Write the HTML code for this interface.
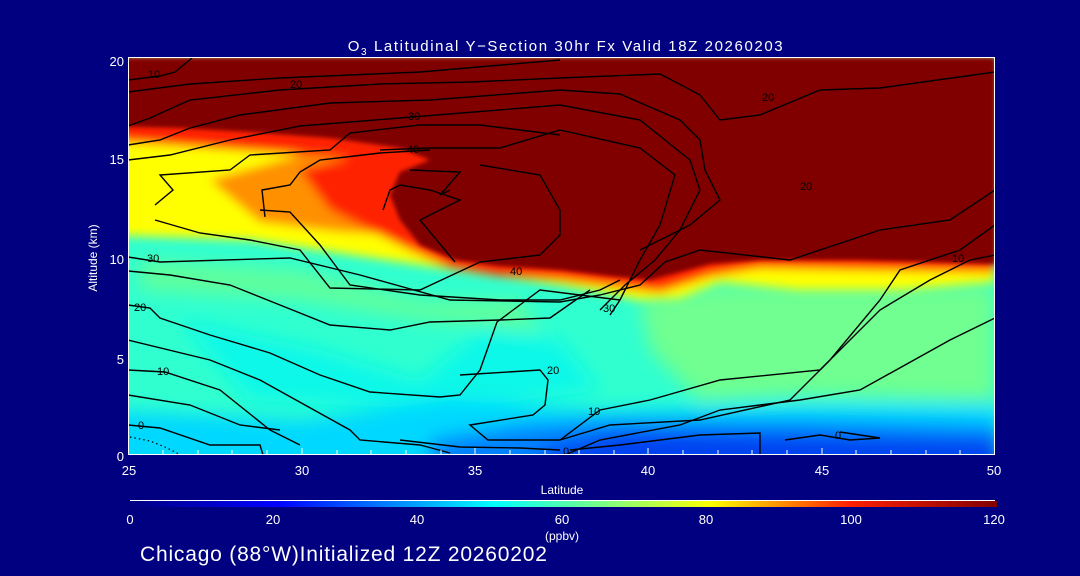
<!DOCTYPE html>
<html><head><style>
html,body{margin:0;padding:0;background:#000080;}
svg{display:block;}
text{font-family:"Liberation Sans",sans-serif;fill:#fff;}
</style></head><body>
<svg width="1080" height="576" viewBox="0 0 1080 576" xmlns="http://www.w3.org/2000/svg">
<defs>
<clipPath id="pc"><rect x="128" y="58" width="867" height="397"/></clipPath>
<filter id="b8" x="-20%" y="-20%" width="140%" height="140%"><feGaussianBlur stdDeviation="9"/></filter>
<filter id="b4" x="-20%" y="-20%" width="140%" height="140%"><feGaussianBlur stdDeviation="5"/></filter>
<filter id="b2" x="-20%" y="-20%" width="140%" height="140%"><feGaussianBlur stdDeviation="2"/></filter>
<linearGradient id="cb" x1="0" x2="1" y1="0" y2="0">
<stop offset="0" stop-color="#000080"/><stop offset="0.17" stop-color="#0000ff"/>
<stop offset="0.33" stop-color="#00a0ff"/><stop offset="0.42" stop-color="#00ffff"/>
<stop offset="0.55" stop-color="#80ff80"/><stop offset="0.67" stop-color="#ffff00"/>
<stop offset="0.83" stop-color="#ff2000"/><stop offset="1" stop-color="#800000"/>
</linearGradient>
</defs>
<rect width="1080" height="576" fill="#000080"/>
<g clip-path="url(#pc)">
<rect x="100" y="40" width="920" height="430" fill="#30ffd0"/>
<g filter="url(#b8)">
<polygon fill="#10f8e8" points="180,320 320,350 420,380 480,330 560,340 600,390 450,410 250,400"/>
<polygon fill="#70ff90" points="640,300 720,285 995,285 995,400 800,395 700,400 650,350"/>
<polygon fill="#60ff9c" points="140,260 300,270 420,300 520,300 540,330 420,320 300,300 140,290"/>
<polygon fill="#00d8ff" points="100,410 300,420 450,400 600,410 800,405 1000,405 1000,470 100,470"/>
<polygon fill="#0080ff" points="430,440 520,425 600,420 800,420 1000,425 1000,470 430,470"/>
<polygon fill="#0040f0" points="540,450 620,432 800,436 1000,440 1000,470 540,470"/>
</g>
<g filter="url(#b4)">
<polygon fill="#ffff00" points="100,140 300,148 440,150 600,200 700,255 995,260 995,282 900,290 800,290 720,282 680,298 640,300 560,285 400,262 250,240 100,235"/>
<polygon fill="#ff9000" points="210,180 300,155 430,150 450,230 400,235 340,232 260,222"/>
<polygon fill="#ff2000" points="100,58 995,58 995,272 860,270 760,268 710,276 660,292 600,285 560,280 500,276 450,268 410,250 330,210 300,170 350,158 100,140"/>
</g>
<g filter="url(#b2)">
<polygon fill="#800000" points="100,58 995,58 995,264 860,260 760,260 710,264 680,272 650,280 610,276 560,270 500,266 455,260 420,245 400,220 390,195 400,172 430,160 400,148 330,138 250,132 180,128 100,126"/>
</g>
</g>
<g fill="none" stroke="#000" stroke-width="1.4" clip-path="url(#pc)">
<polyline points="128,80 160,76 175,72 192,58"/>
<polyline points="128,92 190,84 280,78 420,72 560,60"/>
<polyline points="128,126 150,118 190,100 280,90 380,84 470,82 560,78 660,74 700,95 720,120 760,115 820,90 880,88 995,72"/>
<polyline points="128,145 160,140 190,128 240,115 330,103 430,100 560,90 620,94 680,120 700,140 705,170 720,200 690,225 640,250"/>
<polyline points="128,160 170,155 230,140 300,126 400,118 560,105 640,120 690,160 700,190 680,230 655,260 625,285 600,310"/>
<polyline points="380,150 430,148 500,148 560,130 640,148 675,175 660,225 640,260 620,300 610,315"/>
<polyline points="155,205 173,190 160,175 230,170 250,155 330,150 350,133 420,125 480,125 560,135"/>
<polyline points="265,217 262,190 290,185 300,172 320,160 380,153 430,150"/>
<polyline points="410,170 460,172 440,195 450,190"/>
<polyline points="383,210 390,190 400,185 430,190 460,200 420,220 455,262"/>
<polyline points="155,220 200,233 250,240 300,250 330,288 420,290 480,262 540,255 560,235 560,210 540,175 480,165"/>
<polyline points="260,210 290,212 320,245 350,285 420,295 500,300 560,300 600,290 620,280"/>
<polyline points="128,257 160,262 290,258 360,275 450,300 560,302 600,295 640,285 665,262 700,250 790,260 880,230 950,220 995,190"/>
<polyline points="128,271 170,275 230,285 280,305 330,325 390,330 430,322 500,320 550,318 590,290"/>
<polyline points="128,305 150,308 160,318 210,335 270,353 320,375 370,392 440,397 460,395 480,370 497,322 540,290 620,300"/>
<polyline points="128,340 210,360 260,380 305,405 350,430 360,440 420,445 450,453"/>
<polyline points="128,370 165,372 220,390 270,430 300,445"/>
<polyline points="128,395 190,405 240,425 280,430"/>
<polyline points="128,425 160,428 210,445 260,445 263,455"/>
<polyline points="460,375 540,370 548,380 545,405 533,415 470,425 488,440 560,440 600,410 650,400 720,380 820,370 880,310 930,280 970,260 995,255"/>
<polyline points="560,440 610,425 700,420 790,400 830,360 880,300 900,270 960,250 995,225"/>
<polyline points="565,455 600,440 680,425 720,410 800,400 860,390 950,340 995,318"/>
<polyline points="570,450 620,445 700,435 760,433 760,455"/>
<polyline points="785,440 820,435 850,440 880,438 840,432"/>
<polyline points="400,440 460,447 520,448 560,450" />
</g>
<polyline points="130,437 150,441 165,447 175,452 180,455" fill="none" stroke="#000" stroke-width="1.2" stroke-dasharray="1.5,3"/>
<g font-size="11">
<text x="148" y="78" style="fill:#000">10</text>
<text x="290" y="88" style="fill:#000">20</text>
<text x="408" y="120" style="fill:#000">30</text>
<text x="407" y="153" style="fill:#000">40</text>
<text x="147" y="262" style="fill:#000">30</text>
<text x="510" y="275" style="fill:#000">40</text>
<text x="603" y="312" style="fill:#000">30</text>
<text x="134" y="311" style="fill:#000">20</text>
<text x="157" y="375" style="fill:#000">10</text>
<text x="138" y="429" style="fill:#000">0</text>
<text x="547" y="374" style="fill:#000">20</text>
<text x="588" y="415" style="fill:#000">10</text>
<text x="835" y="439" style="fill:#000">0</text>
<text x="762" y="101" style="fill:#000">20</text>
<text x="800" y="190" style="fill:#000">20</text>
<text x="952" y="262" style="fill:#000">10</text>
<text x="563" y="455" style="fill:#000">0</text>
</g>
<rect x="128.5" y="57.5" width="866" height="397" fill="none" stroke="#fff" stroke-width="1"/>
<g stroke="#fff" stroke-width="1">
<line x1="163" y1="455" x2="163" y2="450"/><line x1="198" y1="455" x2="198" y2="450"/><line x1="232" y1="455" x2="232" y2="450"/><line x1="267" y1="455" x2="267" y2="450"/><line x1="302" y1="455" x2="302" y2="448"/>
<line x1="337" y1="455" x2="337" y2="450"/><line x1="371" y1="455" x2="371" y2="450"/><line x1="406" y1="455" x2="406" y2="450"/><line x1="441" y1="455" x2="441" y2="450"/><line x1="475" y1="455" x2="475" y2="448"/>
<line x1="510" y1="455" x2="510" y2="450"/><line x1="545" y1="455" x2="545" y2="450"/><line x1="579" y1="455" x2="579" y2="450"/><line x1="614" y1="455" x2="614" y2="450"/><line x1="648" y1="455" x2="648" y2="448"/>
<line x1="683" y1="455" x2="683" y2="450"/><line x1="718" y1="455" x2="718" y2="450"/><line x1="752" y1="455" x2="752" y2="450"/><line x1="787" y1="455" x2="787" y2="450"/><line x1="822" y1="455" x2="822" y2="448"/>
<line x1="856" y1="455" x2="856" y2="450"/><line x1="891" y1="455" x2="891" y2="450"/><line x1="926" y1="455" x2="926" y2="450"/><line x1="960" y1="455" x2="960" y2="450"/>
</g>
<text x="566" y="51" font-size="15" text-anchor="middle" letter-spacing="1.6">O<tspan font-size="10" dy="4">3</tspan><tspan dy="-4"> Latitudinal Y−Section 30hr  Fx Valid 18Z 20260203</tspan></text>
<g font-size="13" text-anchor="end">
<text x="124" y="66">20</text><text x="124" y="164">15</text><text x="124" y="264">10</text><text x="124" y="364">5</text><text x="124" y="461">0</text>
</g>
<text transform="translate(97,258) rotate(-90)" font-size="12" text-anchor="middle">Altitude (km)</text>
<g font-size="13" text-anchor="middle">
<text x="129" y="475">25</text><text x="302" y="475">30</text><text x="475" y="475">35</text><text x="648" y="475">40</text><text x="822" y="475">45</text><text x="994" y="475">50</text>
</g>
<text x="562" y="494" font-size="12" text-anchor="middle">Latitude</text>
<line x1="130" y1="500.5" x2="995" y2="500.5" stroke="#fff" stroke-width="1"/>
<rect x="130" y="501" width="867" height="6" fill="url(#cb)"/>
<g font-size="13" text-anchor="middle">
<text x="130" y="524">0</text><text x="273" y="524">20</text><text x="417" y="524">40</text><text x="562" y="524">60</text><text x="706" y="524">80</text><text x="851" y="524">100</text><text x="994" y="524">120</text>
</g>
<text x="562" y="540" font-size="12" text-anchor="middle">(ppbv)</text>
<text x="140" y="561" font-size="21" letter-spacing="0.8">Chicago (88°W)Initialized 12Z 20260202</text>
</svg>
</body></html>
